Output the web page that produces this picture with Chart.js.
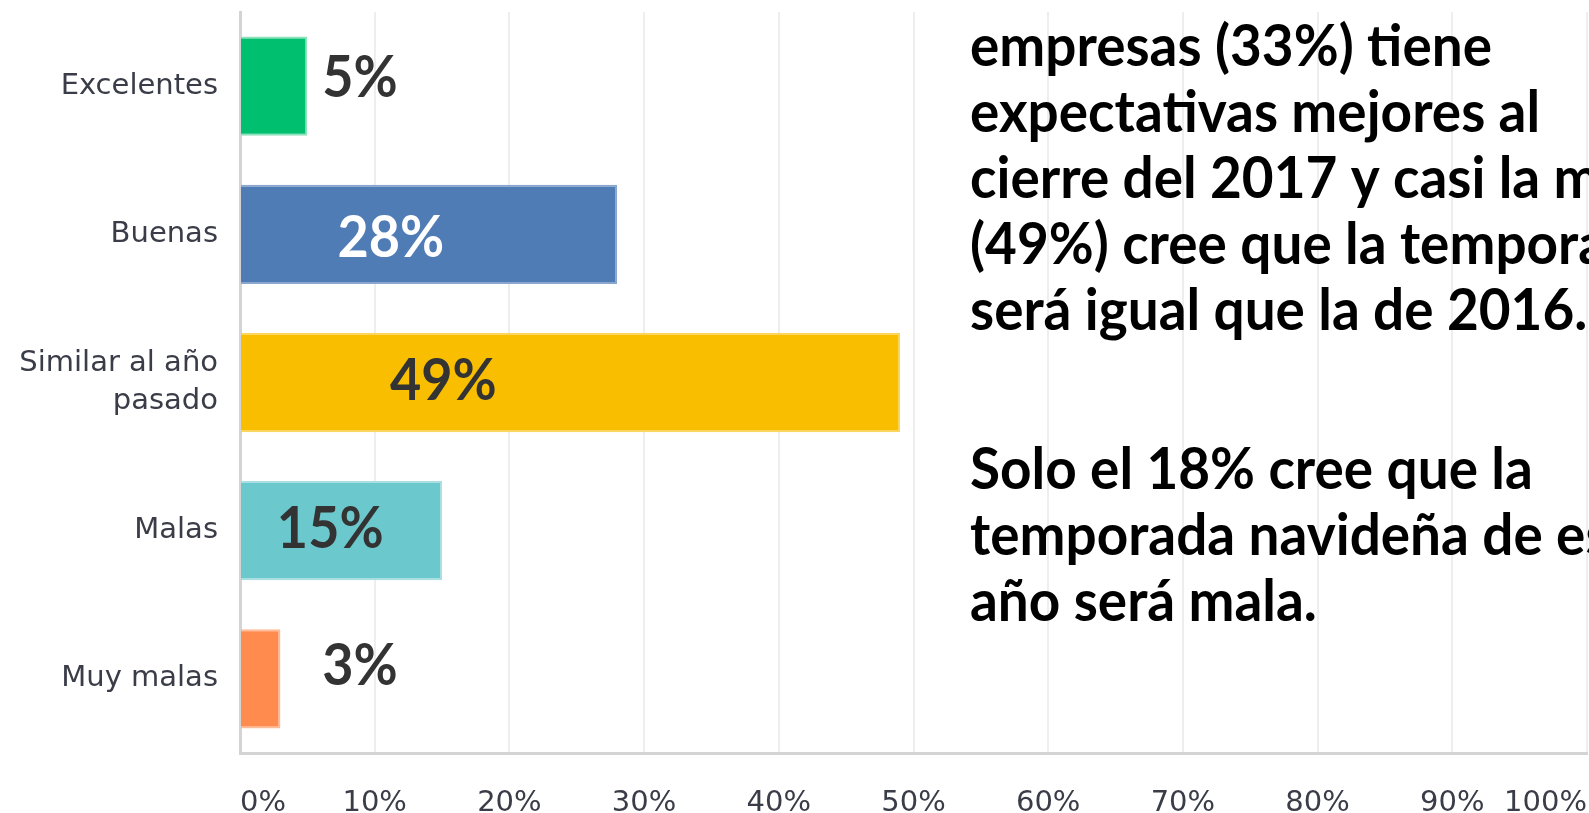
<!DOCTYPE html>
<html>
<head>
<meta charset="utf-8">
<script src="https://cdn.jsdelivr.net/npm/chart.js@4.4.0/dist/chart.umd.min.js"></script>
<style>
  html, body { margin: 0; padding: 0; background: #ffffff; overflow: hidden; }
  #wrap { position: relative; width: 1589px; height: 813px; }
</style>
</head>
<body>
<div id="wrap"><canvas id="c" width="1589" height="813"></canvas></div>
<script>
// ---- data ----
const categories = ['Excelentes', 'Buenas', ['Similar al año', 'pasado'], 'Malas', 'Muy malas'];
const values = [5, 28, 49, 15, 3];
const valueLabels = ['5%', '28%', '49%', '15%', '3%'];
const xTicks = [0, 10, 20, 30, 40, 50, 60, 70, 80, 90, 100];
const noteLines1 = [
  'empresas (33%) tiene',
  'expectativas mejores al',
  'cierre del 2017 y casi la mitad',
  '(49%) cree que la temporada',
  'será igual que la de 2016.'
];
const noteLines2 = [
  'Solo el 18% cree que la',
  'temporada navideña de este',
  'año será mala.'
];

// ---- styles ----
const barColors = ['#00BF6F', '#507CB6', '#F9BE00', '#6BC8CD', '#FF8B4F'];
const barBorders = ['#8fe0bd', '#8aa6cf', '#fbd65c', '#a9dfe2', '#ffbb97'];
const labelColors = ['#333333', '#ffffff', '#333333', '#333333', '#333333'];
const labelCenterX = [8.9, 11.2, 15.1, 6.7, 8.9];   // in axis units
const labelBaseDy = [11, 23, 17, 17, 6];            // px below bar centre

const labelPlugin = {
  id: 'valueLabels',
  afterDatasetsDraw(chart) {
    const ctx = chart.ctx;
    const xs = chart.scales.x;
    const meta = chart.getDatasetMeta(0);
    ctx.save();
    ctx.font = 'bold 58px Lato';
    ctx.textAlign = 'center';
    ctx.textBaseline = 'alphabetic';
    meta.data.forEach((bar, i) => {
      const cx = xs.getPixelForValue(labelCenterX[i]);
      const cy = bar.y + labelBaseDy[i];
      ctx.save();
      ctx.translate(cx, cy);
      ctx.scale(0.93, 1);
      ctx.fillStyle = labelColors[i];
      ctx.fillText(valueLabels[i], 0, 0);
      ctx.restore();
    });
    ctx.restore();
  },
  afterDraw(chart) {
    const ctx = chart.ctx;
    ctx.save();
    ctx.font = 'bold 57px Lato';
    ctx.fillStyle = '#000000';
    ctx.textAlign = 'left';
    ctx.textBaseline = 'alphabetic';
    const sx = 522 / ctx.measureText(noteLines1[0]).width;
    const drawBlock = (lines, startY) => {
      lines.forEach((t, k) => {
        ctx.save();
        ctx.translate(970, startY + k * 66);
        ctx.scale(sx, 1);
        ctx.fillText(t, 0, 0);
        ctx.restore();
      });
    };
    drawBlock(noteLines1, 66);
    drawBlock(noteLines2, 489);
    ctx.restore();
  }
};

new Chart(document.getElementById('c'), {
  type: 'bar',
  data: {
    labels: categories,
    datasets: [{
      data: values,
      backgroundColor: barColors,
      borderColor: barBorders,
      borderWidth: { top: 2, bottom: 2, right: 2, left: 0 },
      borderSkipped: false,
      categoryPercentage: 0.67,
      barPercentage: 1.0
    }]
  },
  options: {
    indexAxis: 'y',
    responsive: false,
    animation: false,
    events: [],
    layout: { padding: { top: 12, right: 2, left: 0, bottom: 0 } },
    plugins: { legend: { display: false }, tooltip: { enabled: false } },
    scales: {
      x: {
        min: 0,
        max: 100,
        afterBuildTicks(scale) { scale.ticks = xTicks.map(v => ({ value: v })); },
        afterFit(scale) {
          scale.height = 60;
          scale.paddingLeft = 0; scale.paddingRight = 0;
        },
        ticks: {
          align: 'inner',
          padding: 33,
          color: '#3a3d48',
          font: { family: 'DejaVu Sans', size: 29 },
          callback: v => v + '%',
          maxRotation: 0,
          autoSkip: false
        },
        grid: { color: '#eeeeee', lineWidth: 2, drawTicks: false },
        border: { color: '#d4d4d4', width: 3 }
      },
      y: {
        afterFit(scale) {
          scale.width = 240;
          scale.paddingTop = 0; scale.paddingBottom = 0;
        },
        ticks: {
          padding: 22,
          color: '#3a3d48',
          font: { family: 'DejaVu Sans', size: 29, lineHeight: 1.28 }
        },
        grid: { display: false, drawTicks: false },
        border: { color: '#d4d4d4', width: 3 }
      }
    }
  },
  plugins: [labelPlugin]
});
</script>
</body>
</html>
